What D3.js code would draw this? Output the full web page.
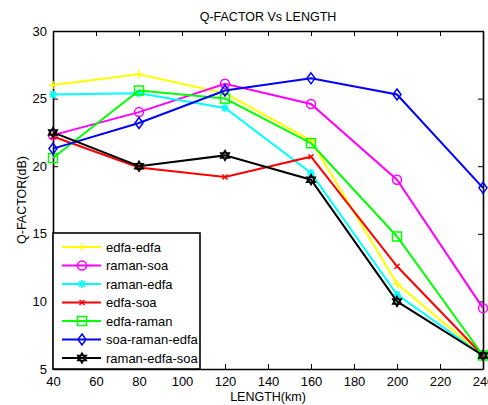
<!DOCTYPE html>
<html>
<head>
<meta charset="utf-8">
<script src="https://cdn.jsdelivr.net/npm/d3@7"></script>
<style>
  body { margin: 0; background: #fff; }
  svg text { font-family: "Liberation Sans", Arial, sans-serif; }
</style>
</head>
<body>
<div id="chart"></div>
<script>
// chart data
const lengths = [40, 80, 120, 160, 200, 240];
const seriesNames = ["edfa-edfa", "raman-soa", "raman-edfa", "edfa-soa", "edfa-raman", "soa-raman-edfa", "raman-edfa-soa"];
const edfaEdfa     = [26.0, 26.8, 25.4, 21.9, 11.3, 6.0];
const ramanSoa     = [22.3, 24.0, 26.1, 24.6, 19.0, 9.5];
const ramanEdfa    = [25.3, 25.4, 24.3, 19.5, 10.5, 6.0];
const edfaSoa      = [22.2, 19.9, 19.2, 20.7, 12.6, 6.0];
const edfaRaman    = [20.6, 25.6, 25.0, 21.7, 14.8, 6.0];
const soaRamanEdfa = [21.3, 23.2, 25.6, 26.5, 25.3, 18.4];
const ramanEdfaSoa = [22.5, 20.0, 20.8, 19.0, 10.0, 6.0];
const xTicks = [40, 60, 80, 100, 120, 140, 160, 180, 200, 220, 240];
const yTicks = [5, 10, 15, 20, 25, 30];

const allSeries = [edfaEdfa, ramanSoa, ramanEdfa, edfaSoa, edfaRaman, soaRamanEdfa, ramanEdfaSoa];
const colors = ["#ffff00", "#ff00ff", "#00ffff", "#ff0000", "#00ff00", "#0000ff", "#000000"];
const markers = ["plus", "circle", "star", "cross", "square", "diamond", "hexagram"];

const W = 488, H = 405;
const margin = {left: 53, right: 5, top: 31, bottom: 36};

const svg = d3.select("#chart").append("svg")
  .attr("width", W).attr("height", H);

const x = d3.scaleLinear().domain([40, 240]).range([margin.left, W - margin.right]);
const y = d3.scaleLinear().domain([5, 30]).range([H - margin.bottom, margin.top]);

// axes, ticks pointing inward like matlab
function styleAxis(g) {
  g.select(".domain").attr("stroke", "#000").attr("stroke-width", 1.6);
  g.selectAll(".tick line").attr("stroke", "#000").attr("stroke-width", 1);
  g.selectAll(".tick text").attr("fill", "#000").attr("font-size", 13);
}

svg.append("g").attr("transform", `translate(0,${y(5)})`)
  .call(d3.axisBottom(x).tickValues(xTicks).tickSizeInner(-5).tickSizeOuter(0).tickPadding(8))
  .call(styleAxis);
svg.append("g").attr("transform", `translate(0,${y(30)})`)
  .call(d3.axisTop(x).tickValues(xTicks).tickSizeInner(-5).tickSizeOuter(0).tickFormat(""))
  .call(styleAxis);
svg.append("g").attr("transform", `translate(${x(40)},0)`)
  .call(d3.axisLeft(y).tickValues(yTicks).tickSizeInner(-5).tickSizeOuter(0).tickPadding(6))
  .call(styleAxis);
svg.append("g").attr("transform", `translate(${x(240)},0)`)
  .call(d3.axisRight(y).tickValues(yTicks).tickSizeInner(-5).tickSizeOuter(0).tickFormat(""))
  .call(styleAxis);

// marker drawing
function drawMarker(g, kind, cx, cy, color) {
  const m = g.append("g").attr("transform", `translate(${cx},${cy})`)
    .attr("fill", "none").attr("stroke", color).attr("stroke-width", 1.5);
  if (kind === "plus") {
    m.append("path").attr("d", "M-4,0H4M0,-4V4");
  } else if (kind === "circle") {
    m.append("circle").attr("r", 4.5);
  } else if (kind === "star") {
    m.append("path").attr("d", "M-4,0H4M0,-4V4M-3,-3L3,3M-3,3L3,-3");
  } else if (kind === "cross") {
    m.append("path").attr("d", "M-2.5,-2.5L2.5,2.5M-2.5,2.5L2.5,-2.5");
  } else if (kind === "square") {
    m.append("rect").attr("x", -4.5).attr("y", -4.5).attr("width", 9).attr("height", 9);
  } else if (kind === "diamond") {
    m.append("path").attr("d", "M0,-5.5L4,0L0,5.5L-4,0Z");
  } else if (kind === "hexagram") {
    const r = 5;
    const tri = a => d3.range(3).map(i => {
      const t = a + i * 2 * Math.PI / 3;
      return [r * Math.sin(t), -r * Math.cos(t)];
    });
    m.append("path").attr("d", "M" + tri(0).join("L") + "Z");
    m.append("path").attr("d", "M" + tri(Math.PI).join("L") + "Z");
  }
}

const line = d3.line().x((d, i) => x(lengths[i])).y(d => y(d));

allSeries.forEach((vals, k) => {
  const g = svg.append("g");
  g.append("path").datum(vals)
    .attr("d", line)
    .attr("fill", "none")
    .attr("stroke", colors[k])
    .attr("stroke-width", 2);
  vals.forEach((v, i) => drawMarker(g, markers[k], x(lengths[i]), y(v), colors[k]));
});

// legend box
const lg = svg.append("g");
const lgTop = 233, lgRight = 200, lgBottom = y(5);
lg.append("rect")
  .attr("x", x(40)).attr("y", lgTop)
  .attr("width", lgRight - x(40)).attr("height", lgBottom - lgTop)
  .attr("fill", "#fff").attr("stroke", "#000").attr("stroke-width", 1.6);
seriesNames.forEach((name, k) => {
  const ly = 247 + k * 18.5;
  lg.append("line").attr("x1", 62).attr("x2", 101).attr("y1", ly).attr("y2", ly)
    .attr("stroke", colors[k]).attr("stroke-width", 2);
  drawMarker(lg, markers[k], 82, ly, colors[k]);
  lg.append("text").attr("x", 106).attr("y", ly).attr("dy", "0.35em")
    .attr("font-size", 13).text(name);
});

// titles
svg.append("text").attr("x", 268).attr("y", 21).attr("text-anchor", "middle")
  .attr("font-size", 12.5).text("Q-FACTOR Vs LENGTH");
svg.append("text").attr("x", 268).attr("y", 401).attr("text-anchor", "middle")
  .attr("font-size", 12.5).text("LENGTH(km)");
svg.append("text").attr("transform", `translate(26,${(y(5) + y(30)) / 2}) rotate(-90)`)
  .attr("text-anchor", "middle").attr("font-size", 12.5).text("Q-FACTOR(dB)");
</script>
</body>
</html>
